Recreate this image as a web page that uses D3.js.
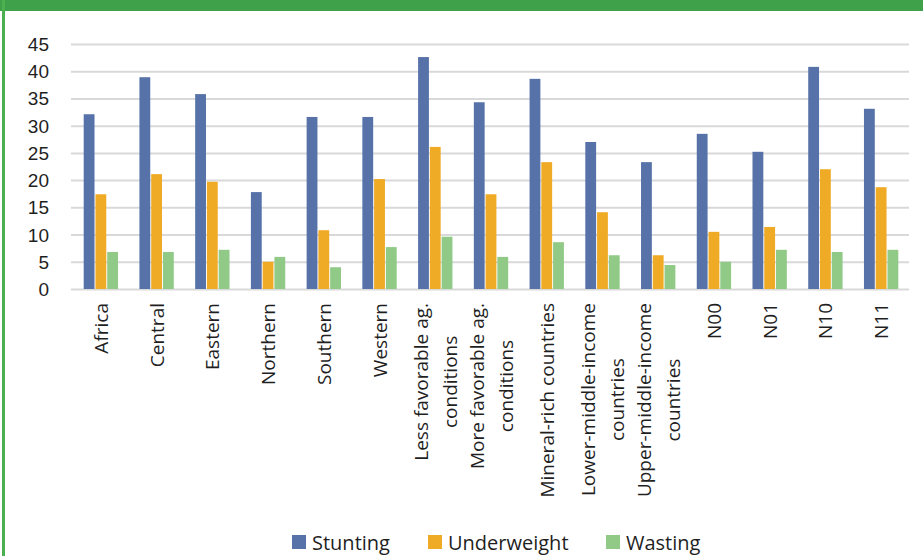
<!DOCTYPE html>
<html>
<head>
<meta charset="utf-8">
<script src="https://cdn.jsdelivr.net/npm/d3@7"></script>
<style>
  html, body { margin: 0; padding: 0; background: #fff; }
  svg { display: block; font-family: "Open Sans", "Noto Sans", sans-serif; }
</style>
</head>
<body>
<svg id="chart" width="923" height="556"></svg>
<script>
// Category labels (each entry is the list of lines drawn under the axis)
const categories = [
  ["Africa"], ["Central"], ["Eastern"], ["Northern"], ["Southern"], ["Western"],
  ["Less favorable ag.", "conditions"], ["More favorable ag.", "conditions"],
  ["Mineral-rich countries"], ["Lower-middle-income", "countries"],
  ["Upper-middle-income", "countries"], ["N00"], ["N01"], ["N10"], ["N11"]
];
const seriesNames = ["Stunting", "Underweight", "Wasting"];
const stunting    = [32.1, 38.9, 35.8, 17.8, 31.6, 31.6, 42.6, 34.3, 38.6, 27.0, 23.3, 28.5, 25.2, 40.8, 33.1];
const underweight = [17.4, 21.1, 19.7, 5.0, 10.8, 20.2, 26.1, 17.4, 23.3, 14.1, 6.2, 10.5, 11.4, 22.0, 18.7];
const wasting     = [6.8, 6.8, 7.2, 5.9, 4.0, 7.7, 9.6, 5.9, 8.6, 6.2, 4.4, 5.0, 7.2, 6.8, 7.2];
const yTicks = [0, 5, 10, 15, 20, 25, 30, 35, 40, 45];
const colors = ["#5672a8", "#f0ab26", "#90ca86"];

const svg = d3.select("#chart");
const seriesValues = [stunting, underweight, wasting];

// Frame: green band on top and thin green rule on the left
svg.append("rect").attr("x", 0).attr("y", 0).attr("width", 923).attr("height", 11).attr("fill", "#3fa149");
svg.append("rect").attr("x", 2).attr("y", 0).attr("width", 3).attr("height", 556).attr("fill", "#4caf50");

const margin = { left: 73, right: 14, top: 44, bottom: 267 };
const plotW = 923 - margin.left - margin.right;
const plotH = 556 - margin.top - margin.bottom;

const g = svg.append("g").attr("transform", `translate(${margin.left},${margin.top})`);

const x0 = d3.scaleBand().domain(d3.range(categories.length)).range([0, plotW]).paddingInner(0.35).paddingOuter(0.175);
const x1 = d3.scaleBand().domain(d3.range(seriesNames.length)).range([0, x0.bandwidth()]).padding(0.08);
const y = d3.scaleLinear().domain([0, 45]).range([plotH, 0]);

// Horizontal gridlines with value labels
const yAxis = d3.axisLeft(y).tickValues(yTicks).tickSize(-plotW - 2).tickPadding(22).tickFormat(d3.format("d"));
const ya = g.append("g").attr("transform", "translate(-2,0)").call(yAxis);
ya.select(".domain").remove();
ya.selectAll(".tick line").attr("stroke", "#d9d9d9").attr("stroke-width", 2);
ya.selectAll(".tick text").attr("fill", "#1f1f1f").style("font-size", "19px").attr("dy", "0.34em");

// Bars
const groups = g.selectAll(".cat").data(categories).join("g")
  .attr("class", "cat")
  .attr("transform", (d, i) => `translate(${x0(i)},0)`);
groups.selectAll("rect")
  .data((d, i) => seriesValues.map((vals, s) => ({ s, v: vals[i] })))
  .join("rect")
  .attr("x", d => x1(d.s))
  .attr("width", x1.bandwidth())
  .attr("y", d => y(d.v))
  .attr("height", d => y(0) - y(d.v))
  .attr("fill", d => colors[d.s]);

// Rotated category labels, lines centred on each other, top end near the axis
const lineGap = 29;
const labels = g.append("g").attr("class", "xlabels");
categories.forEach((lines, i) => {
  const cx = x0(i) + x0.bandwidth() / 2;
  const lg = labels.append("g");
  const texts = lines.map((t, k) => lg.append("text")
    .text(t)
    .attr("fill", "#1f1f1f")
    .style("font-size", "19px")
    .attr("text-anchor", "middle"));
  const maxLen = d3.max(texts, t => t.node().getComputedTextLength());
  const n = lines.length;
  texts.forEach((t, k) => {
    const off = (k - (n - 1) / 2) * lineGap;
    const bx = cx + off + 7;
    const by = plotH + 14 + maxLen / 2;
    t.attr("transform", `translate(${bx},${by}) rotate(-90)`);
  });
});

// Legend
const legend = svg.append("g");
const legendX = [292, 428, 606];
seriesNames.forEach((name, s) => {
  legend.append("rect").attr("x", legendX[s]).attr("y", 535).attr("width", 14).attr("height", 14).attr("fill", colors[s]);
  legend.append("text").attr("x", legendX[s] + 20).attr("y", 550)
    .attr("fill", "#1f1f1f").style("font-size", "20px").text(name);
});
</script>
</body>
</html>
